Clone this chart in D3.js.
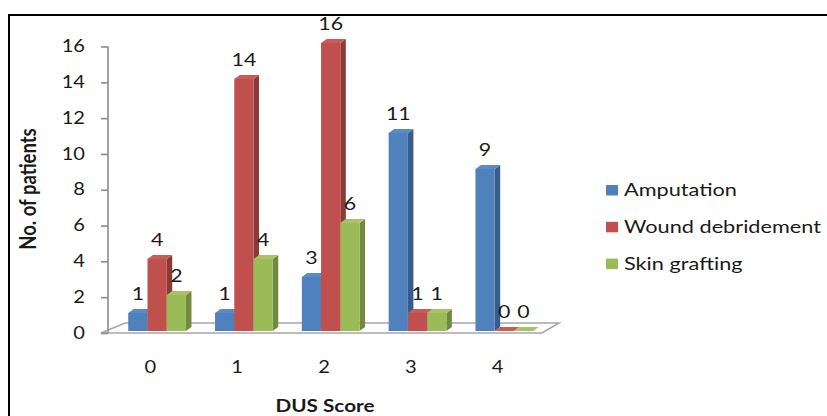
<!DOCTYPE html>
<html>
<head>
<meta charset="utf-8">
<script src="https://cdn.jsdelivr.net/npm/d3@7/dist/d3.min.js"></script>
<style>
  html, body { margin: 0; padding: 0; background: #fff; }
  svg { display: block; }
  text { font-family: Lato, "Open Sans", sans-serif; fill: #1a1a1a; }
</style>
</head>
<body>
<svg id="chart" width="827" height="416"></svg>
<script>
// DUS score vs. treatment outcome
const categories = ["0", "1", "2", "3", "4"];
const seriesNames = ["Amputation", "Wound debridement", "Skin grafting"];
const amputation = [1, 1, 3, 11, 9];
const woundDebridement = [4, 14, 16, 1, 0];
const skinGrafting = [2, 4, 6, 1, 0];
const yTicks = [0, 2, 4, 6, 8, 10, 12, 14, 16];
const xTitle = "DUS Score";
const yTitle = "No. of patients";

const seriesValues = [amputation, woundDebridement, skinGrafting];
const fronts = ["#4f81bd", "#c0504d", "#9bbb59"];
const sides = ["#385d8a", "#8a3a37", "#71893f"];
const tops = ["#5a8bc6", "#c95b58", "#a6c466"];

const svg = d3.select("#chart");
const SX = 1.22;               // glyphs are drawn slightly wide
const depth = { dx: 5.5, dy: -4 };   // bar extrusion
const floorDepth = { dx: 17, dy: -10 };

// scales
const x = d3.scaleBand().domain(categories).range([108, 542])
  .paddingInner(0.335).paddingOuter(0.1675);
const xs = d3.scaleBand().domain(d3.range(seriesNames.length)).range([0, x.bandwidth()]);
const yAxisScale = d3.scaleLinear().domain([0, 16]).range([333, 46.5]);
const yBar = d3.scaleLinear().domain([0, 16]).range([331, 43]);
const barShift = 5.7;

// outer frame
svg.append("path").attr("d", "M9,416V15H827")
  .attr("fill", "none").attr("stroke", "#000").attr("stroke-width", 2);

// floor
const [fx0, fx1] = x.range();
const fy = yAxisScale(0);
svg.append("path")
  .attr("d", `M${fx0 - 7},${fy}H${fx1}l${floorDepth.dx},${floorDepth.dy}H${fx0 + floorDepth.dx}Z`)
  .attr("fill", "#fff").attr("stroke", "#a6a6a6").attr("stroke-width", 1.6);

// value axis
const yAxis = d3.axisLeft(yAxisScale).tickValues(yTicks).tickSize(7).tickPadding(0).tickFormat(d3.format("d"));
const gAxis = svg.append("g").attr("transform", `translate(${fx0},0)`).call(yAxis);
gAxis.select(".domain").attr("stroke", "#8c8c8c").attr("stroke-width", 1.6).attr("d", `M0,${yAxisScale(16)}V${fy}`);
gAxis.selectAll(".tick line").attr("stroke", "#8c8c8c").attr("stroke-width", 1.6);
gAxis.selectAll(".tick text").remove();
gAxis.selectAll(".tick").append("text")
  .attr("transform", `translate(-23,1) scale(${SX},1)`)
  .attr("text-anchor", "end").attr("dominant-baseline", "middle")
  .style("font-size", "16.5px").text(d => d);

// bars
const g = svg.append("g");
seriesNames.forEach((name, si) => {
  categories.forEach((c, ci) => {
    const v = seriesValues[si][ci];
    const x0 = x(c) + xs(si) + barShift;
    const x1 = x0 + xs.bandwidth();
    const yt = yBar(v), yb = yBar(0);
    const { dx, dy } = depth;
    if (v > 0) {
      g.append("path")
        .attr("d", `M${x1},${yt}l${dx},${dy}V${yb + dy}L${x1},${yb}Z`)
        .attr("fill", sides[si]);
    }
    g.append("path")
      .attr("d", `M${x0},${yt}l${dx},${dy}H${x1 + dx}L${x1},${yt}Z`)
      .attr("fill", tops[si]);
    if (v > 0) {
      g.append("rect").attr("x", x0).attr("y", yt)
        .attr("width", x1 - x0).attr("height", yb - yt)
        .attr("fill", fronts[si]);
    }
    g.append("text")
      .attr("transform", `translate(${(x0 + x1) / 2},${yt - 13}) scale(${SX},1)`)
      .attr("text-anchor", "middle").style("font-size", "17.5px").text(v);
  });
});

// category labels
svg.append("g").selectAll("text").data(categories).join("text")
  .attr("transform", d => `translate(${x(d) + x.bandwidth() / 2 - 1},372.5) scale(${SX},1)`)
  .attr("text-anchor", "middle").style("font-size", "16.5px").text(d => d);

// axis titles
svg.append("text")
  .attr("transform", `translate(325,411.5) scale(${SX},1)`)
  .attr("text-anchor", "middle").style("font-size", "17px").style("font-weight", "bold")
  .text(xTitle);
svg.append("text")
  .attr("transform", `translate(36,189) rotate(-90) scale(1,${SX})`)
  .attr("text-anchor", "middle").style("font-size", "18.5px").style("font-weight", "bold")
  .text(yTitle);

// legend
const legend = svg.append("g").selectAll("g").data(seriesNames).join("g")
  .attr("transform", (d, i) => `translate(606,${185 + i * 36.8})`);
legend.append("rect").attr("width", 12).attr("height", 10.5).attr("fill", (d, i) => fronts[i]);
legend.append("text")
  .attr("transform", `translate(18,11) scale(${SX},1)`)
  .style("font-size", "17.8px").text(d => d);
</script>
</body>
</html>
